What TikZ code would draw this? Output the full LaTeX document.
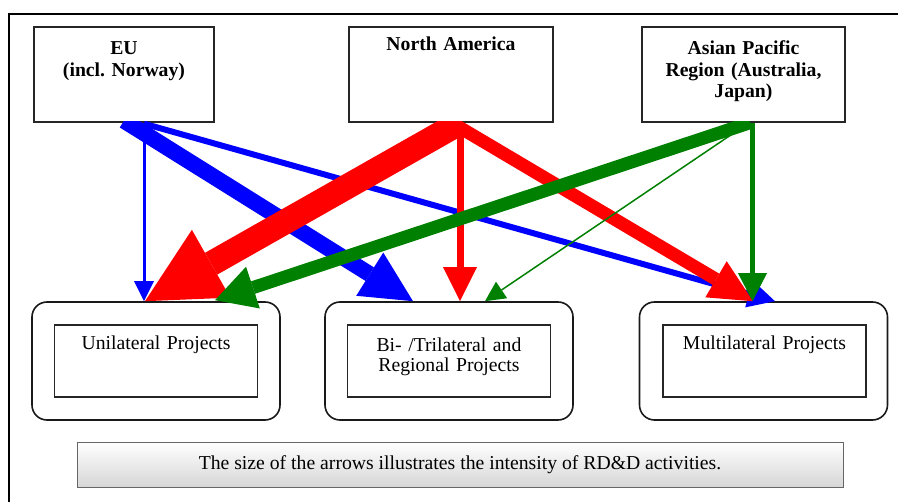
\documentclass[tikz,border=0pt]{standalone}
\usepackage{fontspec}
\setmainfont{Liberation Serif}
\usetikzlibrary{arrows.meta}
\definecolor{apgreen}{RGB}{0,128,0}
\tikzset{
  region/.style={draw=black!85, line width=1.4pt, inner sep=0pt, align=center,
    font=\fontsize{19.7}{21.5}\selectfont\bfseries},
  project/.style={draw=black!90, line width=1.6pt, rounded corners=15pt,
    minimum width=248pt, minimum height=118pt},
  task/.style={draw=black!85, line width=1.3pt, inner sep=0pt, align=center,
    text width=203pt, font=\fontsize{19.7}{19.5}\selectfont},
  note/.style={draw=black!60, line width=0.8pt, top color=white, bottom color=black!16,
    minimum width=766pt, minimum height=45pt, font=\fontsize{19.7}{21}\selectfont},
  flow/.style n args={3}{line width=#1, -{Triangle[length=#2, width=#3, line width=0pt]}},
}

\begin{document}
\begin{tikzpicture}[x=1pt, y=-1pt]
    \useasboundingbox (0,0) rectangle (898,502);
    \draw[line width=1.5pt] (9,502) |- (898,14);

    % the three regions
    \node[region, text width=180pt, text height=28pt, text depth=67pt] (eu) at (124,74.5) {EU\\(incl.\ Norway)};
    \node[region, text width=204pt, text height=24pt, text depth=71pt] (na) at (451,74.5) {North America};
    \node[region, text width=203pt, text height=28pt, text depth=67pt] (ap) at (743.5,74.5) {Asian Pacific\\Region (Australia,\\Japan)};

    % the three kinds of projects
    \node[project] (unibox) at (156,361) {};
    \node[project] (bibox) at (449,361) {};
    \node[project] (multibox) at (763.5,361) {};
    \node[task, text height=25pt, text depth=47pt] (uni) at (unibox.center) {Unilateral Projects};
    \node[task, text height=27pt, text depth=45pt] (bi) at (bibox.center) {Bi- /Trilateral and\\Regional Projects};
    \node[task, text height=25pt, text depth=47pt] (multi) at ([xshift=1pt]multibox.center) {Multilateral Projects};

    \node[note] (caption) at (460,464.5) {The size of the arrows illustrates the intensity of RD\&D activities.};

    \begin{scope}
        \clip (0,122) rectangle (898,502);
        % EU
        \draw[blue, flow={3pt}{20pt}{20pt}] ([xshift=20pt]eu.south) -- ([xshift=-12pt]unibox.north);
        \draw[blue, flow={16pt}{51pt}{51pt}] ([yshift=2pt]eu.south) -- ([xshift=-36pt]bibox.north);
        \draw[blue, flow={6pt}{27pt}{28pt}] ([xshift=20pt,yshift=-1pt]eu.south) -- ([xshift=11.5pt]multibox.north);
        % North America
        \draw[red, flow={25pt}{76pt}{78pt}] ([xshift=9pt]na.south) -- ([xshift=-11pt]unibox.north);
        \draw[red, flow={7pt}{34pt}{34pt}] ([xshift=9pt]na.south) -- ([xshift=11pt]bibox.north);
        \draw[red, flow={13pt}{43pt}{42pt}] ([xshift=4pt,yshift=-2pt]na.south) -- ([xshift=-10.5pt]multibox.north);
        % Asian Pacific
        \draw[apgreen, flow={13pt}{40pt}{44pt}] ([xshift=6.5pt]ap.south) -- ([xshift=59pt,yshift=1pt]unibox.north);
        \draw[apgreen, flow={1.5pt}{20pt}{20pt}] ([xshift=2.5pt,yshift=-2pt]ap.south) -- ([xshift=36pt]bibox.north);
        \draw[apgreen, flow={5.5pt}{28pt}{29pt}] ([xshift=9pt]ap.south) -- ([xshift=-11pt]multibox.north);
    \end{scope}
\end{tikzpicture}
\end{document}
